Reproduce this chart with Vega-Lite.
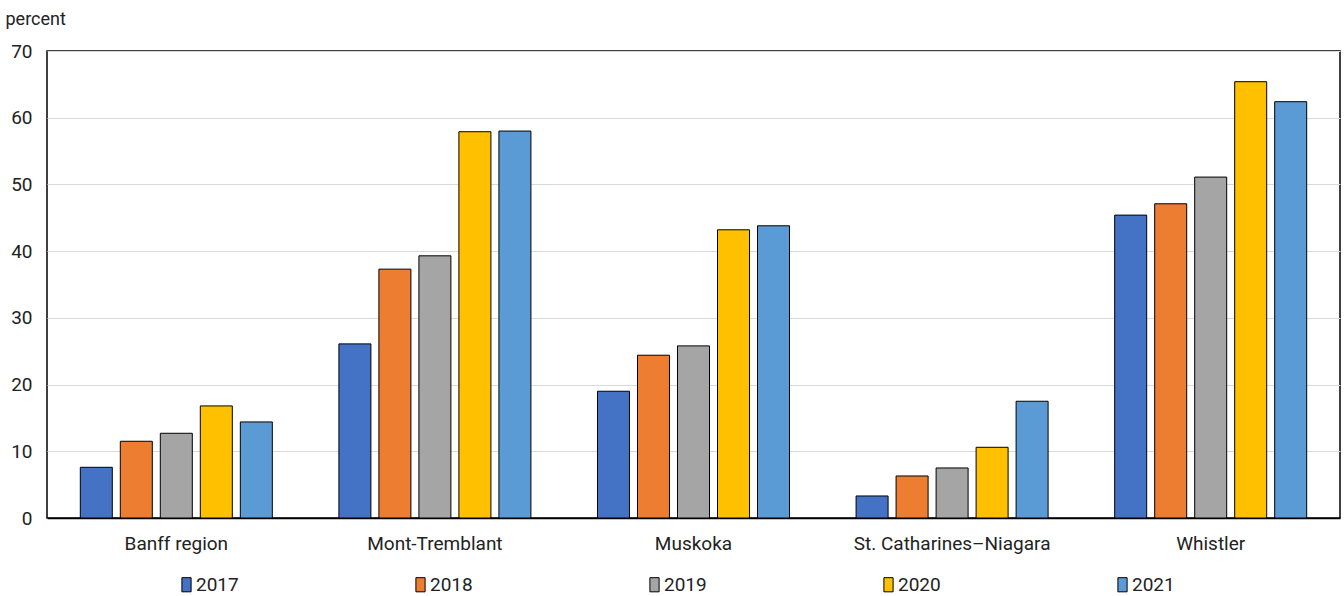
{
  "$schema": "https://vega.github.io/schema/vega-lite/v6.json",
  "width": 1293,
  "height": 467,
  "autosize": {"type": "none"},
  "padding": {"left": 47, "top": 51, "right": 4, "bottom": 78},
  "background": "white",
  "config": {
    "font": "Roboto, sans-serif",
    "view": {"stroke": "black", "strokeWidth": 1.5}
  },
  "data": {
    "values": [
      {"region": "Banff region", "year": "2017", "value": 7.6},
      {"region": "Banff region", "year": "2018", "value": 11.5},
      {"region": "Banff region", "year": "2019", "value": 12.7},
      {"region": "Banff region", "year": "2020", "value": 16.8},
      {"region": "Banff region", "year": "2021", "value": 14.4},
      {"region": "Mont-Tremblant", "year": "2017", "value": 26.1},
      {"region": "Mont-Tremblant", "year": "2018", "value": 37.3},
      {"region": "Mont-Tremblant", "year": "2019", "value": 39.3},
      {"region": "Mont-Tremblant", "year": "2020", "value": 57.9},
      {"region": "Mont-Tremblant", "year": "2021", "value": 58.0},
      {"region": "Muskoka", "year": "2017", "value": 19.0},
      {"region": "Muskoka", "year": "2018", "value": 24.4},
      {"region": "Muskoka", "year": "2019", "value": 25.8},
      {"region": "Muskoka", "year": "2020", "value": 43.2},
      {"region": "Muskoka", "year": "2021", "value": 43.8},
      {"region": "St. Catharines–Niagara", "year": "2017", "value": 3.3},
      {"region": "St. Catharines–Niagara", "year": "2018", "value": 6.3},
      {"region": "St. Catharines–Niagara", "year": "2019", "value": 7.5},
      {"region": "St. Catharines–Niagara", "year": "2020", "value": 10.6},
      {"region": "St. Catharines–Niagara", "year": "2021", "value": 17.5},
      {"region": "Whistler", "year": "2017", "value": 45.4},
      {"region": "Whistler", "year": "2018", "value": 47.1},
      {"region": "Whistler", "year": "2019", "value": 51.1},
      {"region": "Whistler", "year": "2020", "value": 65.4},
      {"region": "Whistler", "year": "2021", "value": 62.4}
    ]
  },
  "mark": {"type": "bar", "stroke": "black", "strokeWidth": 1},
  "encoding": {
    "x": {
      "field": "region",
      "type": "nominal",
      "sort": null,
      "scale": {"paddingInner": 0.2575, "paddingOuter": 0.1288},
      "axis": {
        "title": null,
        "labelAngle": 0,
        "labelFontSize": 19,
        "labelColor": "#222222",
        "labelPadding": 16,
        "labelLimit": 0,
        "ticks": false,
        "domain": true,
        "domainColor": "black",
        "domainWidth": 1.5
      }
    },
    "xOffset": {
      "field": "year",
      "type": "nominal",
      "scale": {"paddingInner": 0.2, "paddingOuter": 0}
    },
    "y": {
      "field": "value",
      "type": "quantitative",
      "scale": {"domain": [0, 70]},
      "axis": {
        "title": "percent",
        "titleAngle": 0,
        "titleAlign": "left",
        "titleBaseline": "alphabetic",
        "titleX": -42,
        "titleY": -27,
        "titleFontSize": 18,
        "titleFontWeight": "normal",
        "titleColor": "#222222",
        "values": [0, 10, 20, 30, 40, 50, 60, 70],
        "labelFontSize": 19,
        "labelColor": "#222222",
        "labelPadding": 15,
        "ticks": false,
        "domain": false,
        "gridColor": "#d9d9d9",
        "gridWidth": 1
      }
    },
    "fill": {
      "field": "year",
      "type": "nominal",
      "scale": {
        "domain": ["2017", "2018", "2019", "2020", "2021"],
        "range": ["#4472C4", "#ED7D31", "#A5A5A5", "#FFC000", "#5B9BD5"]
      },
      "legend": {
        "title": null,
        "orient": "none",
        "legendX": 130,
        "legendY": 524,
        "direction": "horizontal",
        "columns": 5,
        "columnPadding": 172,
        "symbolType": "M-0.65,-1H0.65V1H-0.65Z",
        "symbolSize": 200,
        "symbolStrokeColor": "black",
        "symbolStrokeWidth": 1,
        "symbolOpacity": 1,
        "labelFontSize": 19,
        "labelColor": "#222222",
        "labelOffset": 0
      }
    }
  }
}
